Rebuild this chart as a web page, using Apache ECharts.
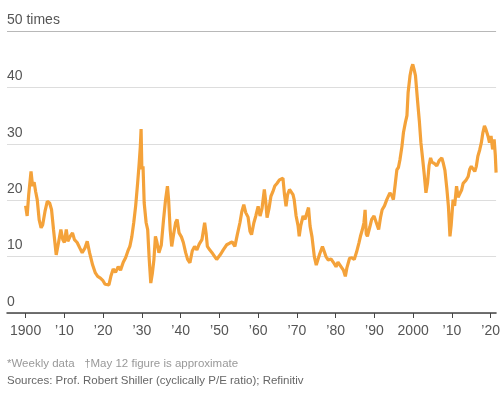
<!DOCTYPE html>
<html>
<head>
<meta charset="utf-8">
<script src="https://cdn.jsdelivr.net/npm/echarts@6/dist/echarts.min.js"></script>
<style>
  html, body { margin: 0; padding: 0; background: #fff; }
  #chart { width: 503px; height: 402px; }
</style>
</head>
<body>
<div id="chart"></div>
<script>
  // cyclically adjusted P/E, weekly
  var years = [
    1900.0, 1900.4, 1900.8, 1901.4, 1901.8, 1902.2, 1902.6, 1903.0, 1903.5, 1904.0,
    1904.4, 1905.0, 1905.6, 1906.2, 1906.7, 1907.2, 1907.9, 1908.5, 1909.1, 1909.6,
    1910.0, 1910.5, 1910.9, 1911.5, 1912.1, 1912.6, 1913.3, 1914.0, 1914.6, 1915.3,
    1915.9, 1916.5, 1917.3, 1918.0, 1918.6, 1919.3, 1919.9, 1920.5, 1921.0, 1921.5,
    1922.0, 1922.6, 1923.2, 1923.9, 1924.5, 1925.2, 1925.8, 1926.4, 1926.9, 1927.4,
    1927.9, 1928.4, 1928.9, 1929.3, 1929.6, 1929.8, 1930.0, 1930.3, 1930.6, 1931.1,
    1931.5, 1931.9, 1932.3, 1932.7, 1933.1, 1933.5, 1933.9, 1934.4, 1935.0, 1935.6,
    1936.1, 1936.6, 1936.9, 1937.3, 1937.7, 1938.2, 1938.7, 1939.1, 1939.6, 1940.2,
    1940.7, 1941.3, 1941.8, 1942.4, 1943.0, 1943.6, 1944.2, 1944.8, 1945.5, 1946.2,
    1946.6, 1946.9, 1947.5, 1948.1, 1948.7, 1949.3, 1949.8, 1950.4, 1951.0, 1951.9,
    1952.7, 1953.3, 1954.0, 1954.6, 1955.3, 1955.8, 1956.3, 1956.8, 1957.4, 1957.9,
    1958.3, 1958.9, 1959.4, 1960.0, 1960.5, 1961.0, 1961.6, 1962.0, 1962.3, 1962.8,
    1963.3, 1963.8, 1964.3, 1964.9, 1965.5, 1966.0, 1966.4, 1966.8, 1967.2, 1967.6,
    1968.1, 1968.6, 1969.0, 1969.3, 1969.8, 1970.3, 1970.6, 1971.0, 1971.6, 1972.1,
    1972.6, 1973.0, 1973.4, 1973.9, 1974.5, 1975.0, 1975.3, 1975.9, 1976.6, 1977.1,
    1977.5, 1978.1, 1978.8, 1979.5, 1980.1, 1980.6, 1981.1, 1981.6, 1982.0, 1982.5,
    1982.9, 1983.6, 1984.2, 1984.8, 1985.4, 1986.0, 1986.4, 1986.9, 1987.3, 1987.6,
    1987.9, 1988.2, 1988.8, 1989.3, 1989.9, 1990.5, 1991.1, 1991.6, 1992.0, 1992.6,
    1993.2, 1994.0, 1994.5, 1994.9, 1995.4, 1995.8, 1996.2, 1996.6, 1997.1, 1997.5,
    1998.0, 1998.4, 1998.7, 1999.2, 1999.6, 1999.9, 2000.3, 2000.6, 2001.1, 2001.6,
    2002.0, 2002.5, 2002.9, 2003.3, 2003.7, 2004.1, 2004.5, 2004.9, 2005.5, 2006.1,
    2006.7, 2007.4, 2007.8, 2008.2, 2008.7, 2009.1, 2009.5, 2009.8, 2010.3, 2010.7,
    2011.2, 2011.6, 2012.0, 2012.5, 2012.9, 2013.6, 2014.2, 2014.6, 2015.0, 2015.5,
    2015.9, 2016.3, 2016.7, 2017.2, 2017.6, 2018.0, 2018.4, 2018.8, 2019.3, 2019.7,
    2020.1, 2020.5, 2020.9, 2021.2, 2021.4
  ]
  var pe = [
    19.0, 17.2, 21.0, 25.1, 22.5, 23.2, 21.5, 20.1, 16.5, 15.1,
    15.6, 18.0, 19.8, 19.5, 18.3, 14.8, 10.3, 12.5, 14.8, 13.0,
    12.5, 14.8, 12.7, 13.6, 14.2, 13.0, 12.5, 11.5, 10.7, 11.5,
    12.7, 10.7, 8.5, 7.1, 6.5, 6.2, 5.8, 5.1, 4.9, 5.0,
    6.5, 7.8, 7.2, 8.2, 7.6, 9.0, 9.8, 11.0, 11.8, 13.5,
    16.0, 19.0, 23.0, 26.5, 29.5, 32.6, 25.5, 26.0, 19.5, 16.0,
    14.8, 9.5, 5.3, 7.0, 9.4, 13.6, 12.5, 10.7, 12.0, 16.6,
    20.0, 22.5, 20.1, 14.8, 11.8, 14.0, 16.0, 16.6, 14.2, 13.5,
    12.5, 10.7, 9.5, 8.9, 11.0, 11.8, 11.2, 12.2, 13.0, 16.0,
    14.0, 11.8, 11.2, 10.7, 10.1, 9.5, 9.2, 10.5, 11.2, 12.1,
    12.4, 12.6, 11.8, 13.8, 16.0, 18.0, 19.2, 17.8, 17.0, 14.5,
    13.9, 16.0, 17.2, 18.9, 17.2, 18.5, 21.9, 19.5, 16.9, 18.5,
    20.7, 21.5, 22.5, 23.0, 23.6, 23.9, 23.9, 21.0, 18.9, 21.0,
    21.9, 21.6, 21.0, 20.1, 17.2, 15.5, 13.6, 15.5, 17.2, 16.6,
    17.8, 18.7, 15.4, 13.5, 10.0, 8.5, 8.2, 10.5, 11.8, 10.8,
    10.0, 9.4, 9.6, 8.9, 8.2, 9.0, 9.1, 8.0, 7.6, 6.5,
    8.0, 9.7, 9.8, 9.5, 10.8, 12.4, 13.6, 14.8, 16.0, 18.3,
    14.0, 13.6, 15.2, 16.6, 17.2, 16.0, 14.8, 17.0, 18.3, 19.0,
    20.1, 21.3, 20.8, 20.1, 23.0, 25.4, 25.8, 27.2, 29.5, 32.0,
    33.8, 35.0, 39.1, 42.1, 43.5, 44.1, 43.0, 42.1, 37.9, 34.0,
    30.2, 27.0, 24.3, 21.3, 23.0, 26.1, 27.5, 26.7, 26.5, 26.1,
    27.0, 27.5, 26.5, 25.3, 22.0, 18.9, 13.6, 15.5, 20.1, 19.0,
    22.5, 20.5, 20.7, 21.8, 23.0, 23.5, 24.2, 25.5, 26.0, 25.8,
    25.1, 26.0, 27.8, 29.0, 30.2, 32.0, 33.2, 32.5, 31.4, 30.2,
    31.4, 29.0, 30.8, 28.0, 24.9
  ]
  var tickYears = [1900, 1910, 1920, 1930, 1940, 1950, 1960, 1970, 1980, 1990, 2000, 2010, 2020]

  var font = "'Liberation Sans', sans-serif"

  var myChart = echarts.init(document.getElementById('chart'))

  var data = years.map(function (y, i) {
    return [y, pe[i]]
  })

  var option = {
    animation: false,
    grid: {
      left: 7,
      right: 0,
      top: 31,
      bottom: 89
    },
    xAxis: {
      type: 'value',
      min: 1895.2,
      max: 2021.4,
      splitLine: { show: false },
      axisLine: {
        show: true,
        lineStyle: { color: '#444', width: 1.5 }
      },
      axisTick: {
        show: true,
        customValues: tickYears,
        length: 5,
        lineStyle: { color: '#444', width: 1 }
      },
      axisLabel: {
        customValues: tickYears,
        margin: 11,
        color: '#555',
        fontFamily: font,
        fontSize: 14,
        formatter: function (v) {
          if (v === 1900 || v === 2000) return String(v)
          return '\u2019' + String(v).slice(2)
        }
      }
    },
    yAxis: {
      type: 'value',
      min: 0,
      max: 50,
      interval: 10,
      axisLine: { show: false },
      axisTick: { show: false },
      splitLine: {
        show: true,
        lineStyle: {
          color: ['#ddd', '#ddd', '#ddd', '#ddd', '#ddd', '#b8b8b8'],
          width: 1
        }
      },
      axisLabel: {
        inside: true,
        margin: 0,
        align: 'left',
        verticalAlign: 'bottom',
        padding: [0, 0, 4, 0],
        color: '#555',
        fontFamily: font,
        fontSize: 14,
        formatter: function (v) {
          return v === 50 ? '50 times' : String(v)
        }
      }
    },
    graphic: [
      {
        type: 'text',
        left: 7,
        top: 358,
        style: {
          text: '*Weekly data   \u2020May 12 figure is approximate',
          fill: '#999',
          font: '11.5px ' + font
        }
      },
      {
        type: 'text',
        left: 7,
        top: 375,
        style: {
          text: 'Sources: Prof. Robert Shiller (cyclically P/E ratio); Refinitiv',
          fill: '#666',
          font: '11.5px ' + font
        }
      }
    ],
    series: [
      {
        name: 'CAPE',
        type: 'line',
        showSymbol: false,
        data: data,
        lineStyle: {
          color: '#f4a23a',
          width: 3.2
        },
        itemStyle: { color: '#f4a23a' }
      }
    ]
  }
  myChart.setOption(option)
</script>
</body>
</html>
